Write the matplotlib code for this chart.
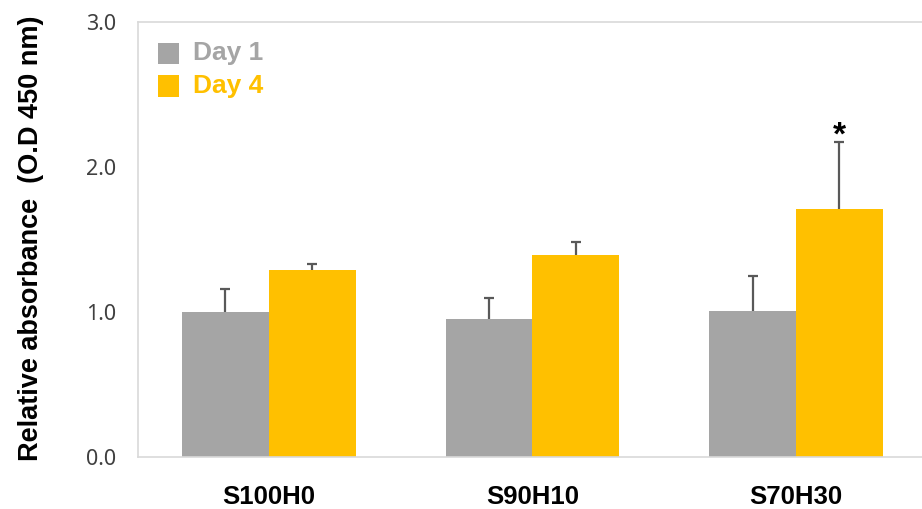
import matplotlib
matplotlib.use("Agg")
import matplotlib.pyplot as plt
from matplotlib.patches import Rectangle
import numpy as np

# Data
groups = ["S100H0", "S90H10", "S70H30"]
day1 = [1.00, 0.956, 1.01]
day1_err = [0.162, 0.143, 0.237]
day4 = [1.29, 1.397, 1.708]
day4_err = [0.04, 0.09, 0.465]
series_names = ["Day 1", "Day 4"]
significant = [False, False, True]

gray = "#a5a5a5"
yellow = "#ffc000"
err_color = "#595959"
spine_color = "#d9d9d9"

W, H = 922, 509
fig = plt.figure(figsize=(W / 100, H / 100), dpi=100)
ax = fig.add_axes([138 / W, 1 - 457.3 / H, (W - 138) / W, (457.3 - 22) / H])

x = np.arange(len(groups))
bw = 0.33
ax.bar(x - bw / 2, day1, bw, color=gray, zorder=2)
ax.bar(x + bw / 2, day4, bw, color=yellow, zorder=2)
ekw = dict(fmt="none", ecolor=err_color, elinewidth=1.6, capsize=3.3, capthick=1.6, zorder=3)
for xs, vals, errs in [(x - bw / 2, day1, day1_err), (x + bw / 2, day4, day4_err)]:
    eb = ax.errorbar(xs, vals, yerr=[np.zeros(3), errs], **ekw)
    # only the upper whisker is shown
    eb[1][0].set_visible(False)

for i, sig in enumerate(significant):
    if sig:
        ax.annotate("*", (x[i] + bw / 2, day4[i] + day4_err[i]), xytext=(0, -7),
                    textcoords="offset points", ha="center", va="bottom",
                    fontsize=24, fontweight="bold", family="Liberation Sans", color="black")

ax.set_xlim(-0.497, (W - 269) / 263.5)
ax.set_ylim(0, 3.0)
ax.set_yticks([0, 1, 2, 3])
ax.set_yticklabels([f"{v:.1f}" for v in [0, 1, 2, 3]], family="Noto Sans",
                   fontsize=15.5, color="#404040")
ax.set_xticks(x)
ax.set_xticklabels(groups, family="Liberation Sans", fontweight="bold", fontsize=18.5, color="black")
ax.tick_params(axis="y", length=0, pad=16)
ax.tick_params(axis="x", length=0, pad=20)

for s in ["left", "top", "bottom"]:
    ax.spines[s].set_color(spine_color)
    ax.spines[s].set_linewidth(1.2)
ax.spines["right"].set_visible(False)

fig.text(31 / W, 1 - 238 / H, "Relative absorbance  (O.D 450 nm)", rotation=90,
         ha="center", va="center", family="Liberation Sans", fontweight="bold",
         fontsize=19.5, color="black")

# Legend drawn as colored squares with matching bold text
for (name, col, cy) in [(series_names[0], gray, 53.5), (series_names[1], yellow, 86)]:
    fig.patches.append(Rectangle((158 / W, 1 - (cy + 10.5) / H), 21 / W, 21 / H,
                                 transform=fig.transFigure, facecolor=col, edgecolor="none"))
    fig.text(193 / W, 1 - cy / H, name, ha="left", va="center", family="Liberation Sans",
             fontweight="bold", fontsize=19, color=col)

fig.savefig("out.png", dpi=100)
